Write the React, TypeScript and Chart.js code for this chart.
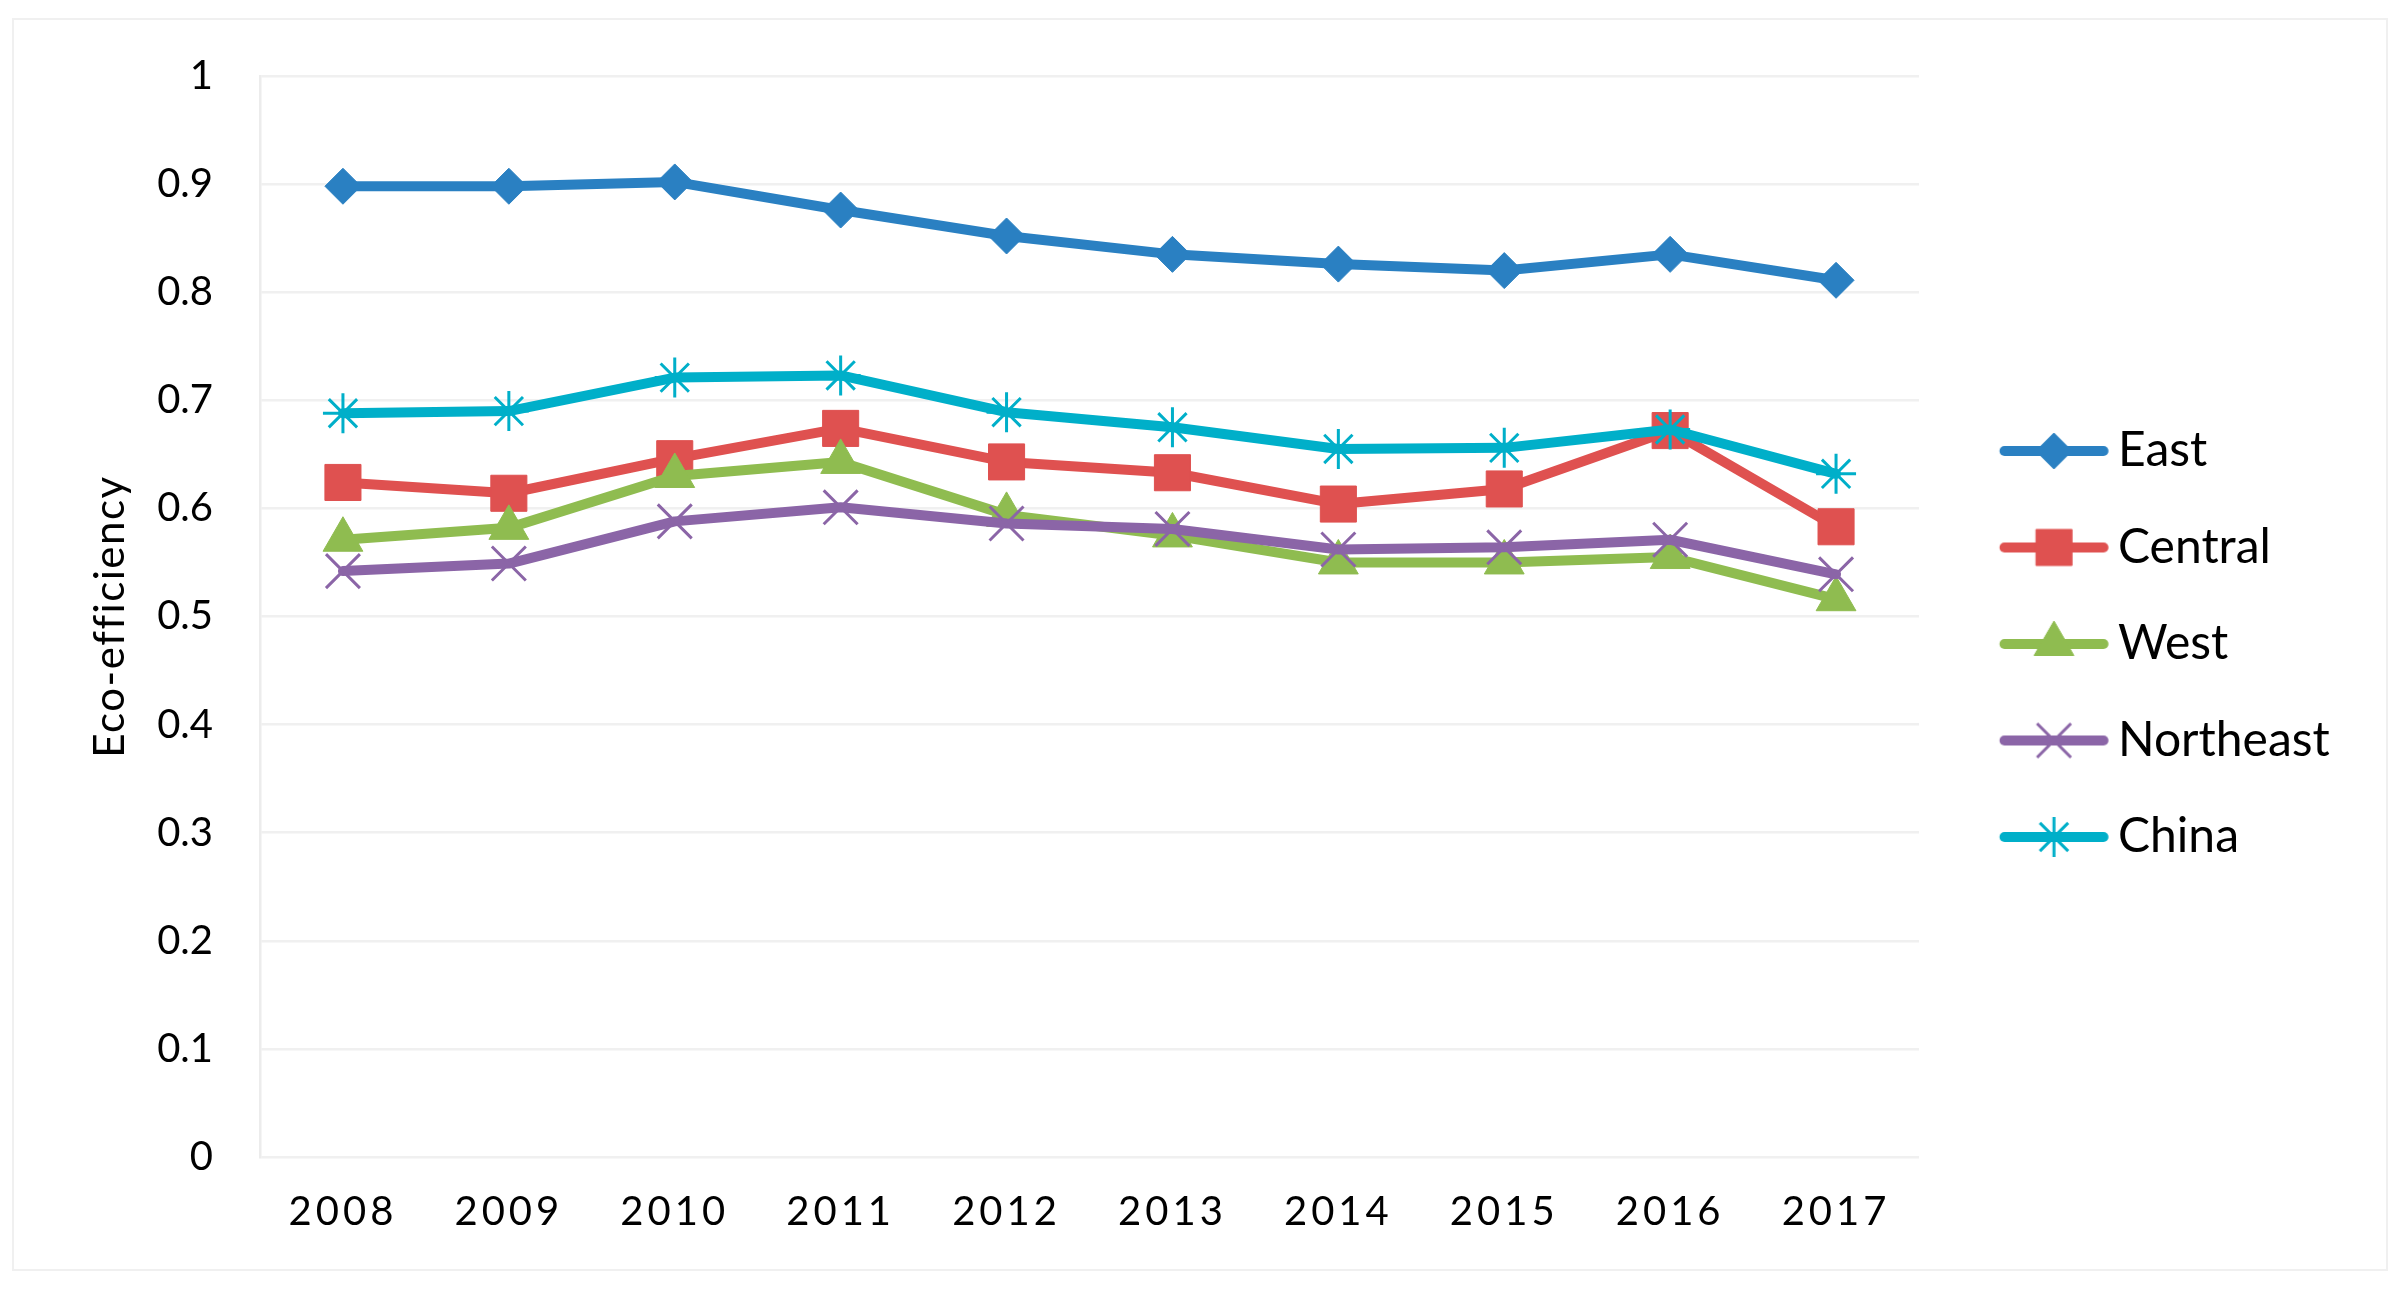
import React, { useEffect, useRef } from "react";
import { Chart, registerables } from "chart.js";
import { drawPoint } from "chart.js/helpers";

Chart.register(...registerables);

const YEARS = ["2008", "2009", "2010", "2011", "2012", "2013", "2014", "2015", "2016", "2017"];
const EAST = [0.898, 0.898, 0.902, 0.876, 0.852, 0.835, 0.826, 0.82, 0.835, 0.811];
const CENTRAL = [0.624, 0.614, 0.646, 0.674, 0.643, 0.633, 0.604, 0.618, 0.672, 0.583];
const WEST = [0.571, 0.582, 0.63, 0.643, 0.594, 0.575, 0.55, 0.55, 0.555, 0.516];
const NORTHEAST = [0.542, 0.549, 0.588, 0.601, 0.586, 0.581, 0.562, 0.564, 0.571, 0.539];
const CHINA = [0.688, 0.69, 0.721, 0.723, 0.689, 0.675, 0.655, 0.656, 0.673, 0.632];
const SERIES_NAMES = ["East", "Central", "West", "Northeast", "China"];
const Y_TICK_LABELS = ["0", "0.1", "0.2", "0.3", "0.4", "0.5", "0.6", "0.7", "0.8", "0.9", "1"];
const Y_TITLE = "Eco-efficiency";

const SERIES_VALUES = [EAST, CENTRAL, WEST, NORTHEAST, CHINA];
const COLORS = ["#2A80C2", "#DF5150", "#8FBC50", "#8B65A7", "#00AFC9"];
const POINT_STYLES = ["rectRot", "rect", "triangle", "crossRot", "star"];
const POINT_RADII = [18, 25.5, 23, 24, 20];
const POINT_BORDERS = [1, 1, 1, 3, 3];

const FONT = "Lato, 'Open Sans', sans-serif";
const CANVAS_W = 2372;
const CANVAS_H = 1249;
const LEGEND_W = 467;
const LEGEND_BOX_W = 126.5;
const LEGEND_PAD = 48.5;
const LEGEND_BOTTOM = 1192;

function makeIcon(i: number): HTMLCanvasElement {
  const c = document.createElement("canvas");
  c.width = 160;
  c.height = 48;
  const g = c.getContext("2d") as CanvasRenderingContext2D;
  const cx = 103.25;
  const cy = 24;
  g.strokeStyle = COLORS[i];
  g.lineWidth = 10;
  g.lineCap = "round";
  g.beginPath();
  g.moveTo(cx - 49.5, cy);
  g.lineTo(cx + 49.5, cy);
  g.stroke();
  g.lineCap = "butt";
  g.fillStyle = COLORS[i];
  g.strokeStyle = COLORS[i];
  g.lineWidth = POINT_BORDERS[i];
  drawPoint(g, { pointStyle: POINT_STYLES[i] as any, radius: POINT_RADII[i], rotation: 0, borderWidth: POINT_BORDERS[i] } as any, cx, cy);
  return c;
}

const tweakPlugin = {
  id: "tweaks",
  afterInit(chart: any) {
    const lg = chart.legend;
    if (lg && !lg._fitPatched) {
      const origFit = lg.fit;
      lg.fit = function () {
        origFit.call(this);
        this.width = LEGEND_W;
      };
      lg._fitPatched = true;
    }
  },
  afterLayout(chart: any) {
    const lg = chart.legend;
    if (lg) {
      lg.bottom = LEGEND_BOTTOM;
      lg.height = lg.bottom - lg.top;
    }
  },
  beforeDraw(chart: any) {
    const x = chart.scales.x;
    if (x && !x._lsPatched) {
      const orig = x.drawLabels;
      x.drawLabels = function (area: any) {
        const ctx = this.ctx;
        ctx.save();
        ctx.letterSpacing = "4px";
        orig.call(this, area);
        ctx.restore();
      };
      x._lsPatched = true;
    }
    const y = chart.scales.y;
    if (y && !y._lsPatched) {
      const origT = y.drawTitle;
      y.drawTitle = function () {
        const ctx = this.ctx;
        ctx.save();
        ctx.letterSpacing = "1.5px";
        origT.call(this);
        ctx.restore();
      };
      y._lsPatched = true;
    }
  },
};

export default function App() {
  const ref = useRef<HTMLCanvasElement | null>(null);

  useEffect(() => {
    if (!ref.current) return;
    const icons = SERIES_NAMES.map((_, i) => makeIcon(i));
    const chart = new Chart(ref.current, {
      type: "line",
      data: {
        labels: YEARS,
        datasets: SERIES_NAMES.map((name, i) => ({
          label: name,
          data: SERIES_VALUES[i],
          borderColor: COLORS[i],
          backgroundColor: COLORS[i],
          borderWidth: 10,
          borderJoinStyle: "round" as const,
          borderCapStyle: "round" as const,
          tension: 0,
          pointStyle: POINT_STYLES[i] as any,
          pointRadius: POINT_RADII[i],
          pointHoverRadius: POINT_RADII[i],
          pointBackgroundColor: COLORS[i],
          pointBorderColor: COLORS[i],
          pointBorderWidth: POINT_BORDERS[i],
          order: SERIES_NAMES.length - i,
          clip: false as any,
        })),
      },
      options: {
        animation: false,
        responsive: false,
        devicePixelRatio: 1,
        layout: { padding: { top: 56, left: 0, right: 0, bottom: 0 } },
        plugins: {
          tooltip: { enabled: false },
          legend: {
            position: "right",
            labels: {
              usePointStyle: true,
              pointStyleWidth: LEGEND_BOX_W,
              padding: LEGEND_PAD,
              color: "#000",
              font: { family: FONT, size: 48 },
              generateLabels: (ch: any) =>
                ch.data.datasets.map((ds: any, i: number) => ({
                  text: ds.label,
                  pointStyle: icons[i],
                  fillStyle: COLORS[i],
                  strokeStyle: COLORS[i],
                  lineWidth: 0,
                  hidden: false,
                  datasetIndex: i,
                })),
            },
          },
        },
        scales: {
          x: {
            type: "category",
            offset: true,
            grid: { display: false, drawTicks: false },
            border: { display: false },
            ticks: { padding: 31, color: "#000", font: { family: FONT, size: 40 } },
            afterFit: (s: any) => {
              s.height = 112;
            },
          },
          y: {
            min: 0,
            max: 1,
            ticks: {
              stepSize: 0.1,
              padding: 8,
              color: "#000",
              font: { family: FONT, size: 40 },
              callback: (_v: any, idx: number) => Y_TICK_LABELS[idx],
            },
            grid: {
              color: "#f0f0f0",
              lineWidth: 2.5,
              drawTicks: true,
              tickLength: 39,
              tickColor: "rgba(0,0,0,0)",
            },
            border: { display: true, color: "#ececec", width: 2.5 },
            title: {
              display: true,
              text: Y_TITLE,
              color: "#000",
              font: { family: FONT, size: 42 },
              padding: { top: 70.8, bottom: 0 },
            },
            afterFit: (s: any) => {
              s.width = 246;
            },
          },
        },
      },
      plugins: [tweakPlugin as any],
    });
    return () => chart.destroy();
  }, []);

  return (
    <div
      style={{
        position: "absolute",
        left: 12,
        top: 18,
        width: CANVAS_W + 4,
        height: CANVAS_H + 4,
        boxSizing: "border-box",
        border: "2px solid #f0f0f0",
        background: "#fff",
      }}
    >
      <canvas
        ref={ref}
        width={CANVAS_W}
        height={CANVAS_H}
        style={{ display: "block", width: CANVAS_W, height: CANVAS_H }}
      />
    </div>
  );
}
